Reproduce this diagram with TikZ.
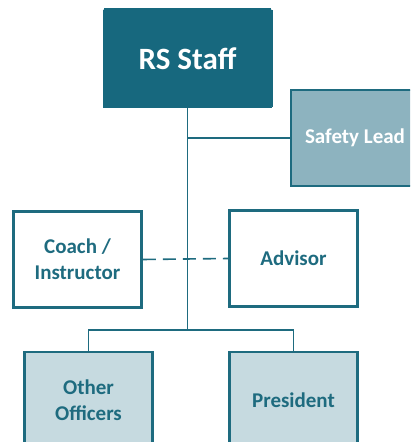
\documentclass[tikz,border=0pt]{standalone}
\usepackage{fontspec}
\setmainfont{Carlito}
\usetikzlibrary{positioning}

\definecolor{rsteal}{HTML}{17687E}
\definecolor{rsline}{HTML}{1E6B7F}
\definecolor{rsmid}{HTML}{8DB3BF}
\definecolor{rslight}{HTML}{C6DAE0}

\tikzset{
  rolebox/.style={draw=rsline, line width=2.6pt, minimum width=128pt, minimum height=96pt,
    align=center, font=\bfseries\fontsize{21}{26}\selectfont, text=rsline},
  topbox/.style={rolebox, fill=rsteal, draw=rsteal, minimum width=169pt, minimum height=99pt,
    line width=0pt, rounded corners=1.5pt, text=white, font=\bfseries\fontsize{31}{35}\selectfont},
  leadbox/.style={rolebox, fill=rsmid, text=white},
  officebox/.style={rolebox, fill=rslight},
  orgline/.style={draw=rsline, line width=1.6pt},
}

\begin{document}
\begin{tikzpicture}[x=1pt,y=1pt]
\useasboundingbox (0,0) rectangle (410,442);
\clip (0,0) rectangle (410,442);
% Drawing boxes
\node[topbox] (rs) at (187.5,383.5) {RS Staff};
\node[leadbox] (safety) at (355,304) {Safety Lead};
\node[rolebox] (coach) at (77.5,182.5) {Coach /\\Instructor};
\node[rolebox] (advisor) at (293.5,183.5) {Advisor};
\node[officebox] (officers) at (88.5,42) {Other\\Officers};
\node[officebox] (president) at (293.5,42) {President};
% Done with boxes; drawing lines
\coordinate (bus) at (187.5,112);
\draw[orgline] (rs.south) -- (bus);
\draw[orgline] (rs.south |- safety.west) -- (safety.west);
\draw[orgline, dash pattern=on 13pt off 7pt] (coach.east) -- (advisor.west);
\draw[orgline] (officers.north) |- (bus) -| (president.north);
\end{tikzpicture}
\end{document}
